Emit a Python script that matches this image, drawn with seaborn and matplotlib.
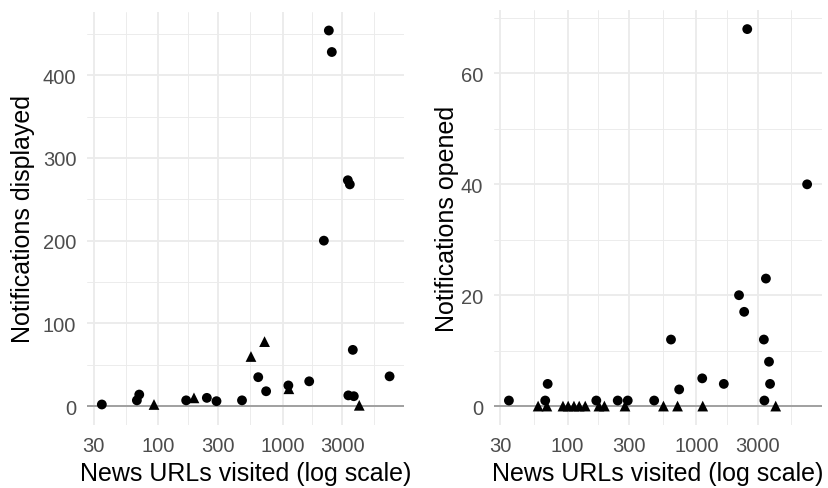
import matplotlib
matplotlib.use('Agg')
import matplotlib.pyplot as plt
import seaborn as sns
import numpy as np
import pandas as pd

# data, one row per user
news_urls = [35, 59, 67, 69, 70, 92, 101, 112, 123, 137, 167, 175, 193, 245, 279, 293,
             470, 555, 635, 714, 735, 1110, 1120, 1633, 2143, 2350, 2483, 3342, 3467,
             3373, 3664, 3733, 4130, 7244]
group = ['circle', 'triangle', 'circle', 'triangle', 'circle', 'triangle', 'triangle',
         'triangle', 'triangle', 'triangle', 'circle', 'triangle', 'triangle', 'circle',
         'triangle', 'circle', 'circle', 'triangle', 'circle', 'triangle', 'circle',
         'circle', 'triangle', 'circle', 'circle', 'circle', 'circle', 'circle', 'circle',
         'circle', 'circle', 'circle', 'triangle', 'circle']
displayed = [2, np.nan, 7, np.nan, 14, 2, np.nan, np.nan, np.nan, np.nan, 7, np.nan, 10,
             10, np.nan, 6, 7, 60, 35, 78, 18, 25, 21, 30, 200, 454, 428, 273, 268,
             13, 68, 12, 1, 36]
opened = [1, 0, 1, 0, 4, 0, 0, 0, 0, 0, 1, 0, 0, 1, 0, 1, 1, 0, 12, 0, 3, 5, 0, 4,
          20, 17, 68, 12, 23, 1, 8, 4, 0, 40]

x_breaks = [30, 100, 300, 1000, 3000]
x_minor = [54.77, 173.2, 547.7, 1732, 5477]

df = pd.DataFrame({'urls': news_urls, 'group': group,
                   'displayed': displayed, 'opened': opened})

sns.set_theme(style='white')
plt.rcParams['font.family'] = ['Liberation Sans', 'DejaVu Sans']

fig = plt.figure(figsize=(8.29, 4.89), dpi=100)
ax1 = fig.add_axes([0.1055, 0.129, 0.3818, 0.845])
ax2 = fig.add_axes([0.5959, 0.129, 0.3957, 0.848])

panels = [
    (ax1, 'displayed', 'Notifications displayed', [0, 100, 200, 300, 400], [50, 150, 250, 350, 450], 6),
    (ax2, 'opened', 'Notifications opened', [0, 20, 40, 60], [10, 30, 50, 70], 1),
]

lx = np.log10(df['urls'])
xpad = (lx.max() - lx.min()) * 0.05
xlim = (10 ** (lx.min() - xpad), 10 ** (lx.max() + xpad))

for ax, col, ylab, ymaj, ymin, ypad in panels:
    d = df.dropna(subset=[col])
    sns.scatterplot(data=d, x='urls', y=col, style='group',
                    markers={'circle': 'o', 'triangle': '^'},
                    size='group', sizes={'circle': 50, 'triangle': 60},
                    color='black', edgecolor='none', linewidth=0,
                    legend=False, ax=ax, zorder=3)
    ax.set_xscale('log')
    ax.set_xlim(*xlim)
    top = np.nanmax(df[col])
    ax.set_ylim(-top * 0.05, top * 1.05)

    ax.set_xticks(x_breaks)
    ax.set_xticklabels([str(b) for b in x_breaks])
    ax.set_xticks(x_minor, minor=True)
    ax.set_yticks(ymaj)
    ax.set_yticks(ymin, minor=True)
    ax.grid(which='major', color='#EBEBEB', linewidth=1.3)
    ax.grid(which='minor', color='#EBEBEB', linewidth=0.65)
    ax.set_axisbelow(True)
    ax.axhline(0, color='#8C8C8C', linewidth=1.1, zorder=2)

    ax.tick_params(which='both', length=0, labelsize=14.5, labelcolor='#4D4D4D', pad=8)
    for s in ax.spines.values():
        s.set_visible(False)
    ax.set_xlabel('News URLs visited (log scale)', fontsize=18, color='black', labelpad=4)
    ax.set_ylabel(ylab, fontsize=18, color='black', labelpad=ypad)

fig.savefig('out.png', dpi=100)
plt.close(fig)
